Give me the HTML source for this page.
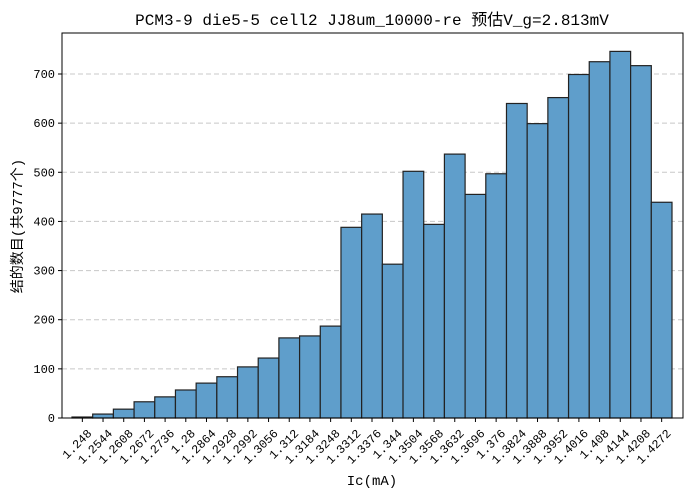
<!DOCTYPE html>
<html><head><meta charset="utf-8"><style>
body{margin:0;background:#fff;}
svg{display:block;font-family:"Liberation Mono","WenQuanYi Zen Hei","Noto Sans CJK SC",monospace;}
</style></head><body>
<svg id="chart" width="691" height="496" viewBox="0 0 691 496" xmlns="http://www.w3.org/2000/svg">
<text x="372" y="25" text-anchor="middle" font-size="16" fill="#000">PCM3-9 die5-5 cell2 JJ8um_10000-re 预估V_g=2.813mV</text>
<g id="grid"></g><g id="bars"></g><g id="axes"></g>
<text x="372" y="485" text-anchor="middle" font-size="14" fill="#000">Ic(mA)</text>
<text transform="translate(22,226) rotate(-90)" text-anchor="middle" font-size="14" fill="#000">结的数目(共9777个)</text>
</svg>
<script>
const categories=["1.248","1.2544","1.2608","1.2672","1.2736","1.28","1.2864","1.2928","1.2992","1.3056","1.312","1.3184","1.3248","1.3312","1.3376","1.344","1.3504","1.3568","1.3632","1.3696","1.376","1.3824","1.3888","1.3952","1.4016","1.408","1.4144","1.4208","1.4272"];
const counts=[2,8,18,33,43,57,71,84,104,122,163,167,187,388,415,313,502,394,537,455,497,640,599,652,699,725,746,717,439];
const yTicks=[0,100,200,300,400,500,600,700];
const NS="http://www.w3.org/2000/svg";
const L=62,R=683,T=33,B=418,bx0=72,bx1=672;
const bw=(bx1-bx0)/categories.length;
const y=v=>B-v*(344/700);
const xc=i=>bx0+bw*(i+0.5);
function mk(t,a,p){const e=document.createElementNS(NS,t);for(const k in a)e.setAttribute(k,a[k]);p.appendChild(e);return e;}
const grid=document.getElementById('grid'),bars=document.getElementById('bars'),axes=document.getElementById('axes');
yTicks.forEach(v=>{
  if(v>0){const g=mk('line',{x1:L,x2:R,y1:y(v),y2:y(v),stroke:'#c8c8c8','stroke-dasharray':'5,3','stroke-width':1},grid);
  
  }
  const t=mk('line',{x1:L-4,x2:L,y1:y(v),y2:y(v),stroke:'#000'},axes);
  
  
  const l=mk('text',{x:L-7,y:y(v)+4,'text-anchor':'end','font-size':12},axes);l.textContent=v;
  
  
});
counts.forEach((c,i)=>{
  const r=mk('rect',{x:bx0+bw*i,y:y(c),width:bw,height:B-y(c),fill:'#5f9ecb',stroke:'#222','stroke-width':1.2},bars);
  
  
});
categories.forEach((c,i)=>{
  const t=mk('line',{x1:xc(i),x2:xc(i),y1:B,y2:B+4,stroke:'#000'},axes);
  
  
  const l=mk('text',{transform:`translate(${xc(i)+10},${B+16}) rotate(-45)`,'text-anchor':'end','font-size':12},axes);l.textContent=c;
  
  
});
const f=mk('rect',{x:L,y:T,width:R-L,height:B-T,fill:'none',stroke:'#000','stroke-width':1},axes);


</script>
</body></html>
